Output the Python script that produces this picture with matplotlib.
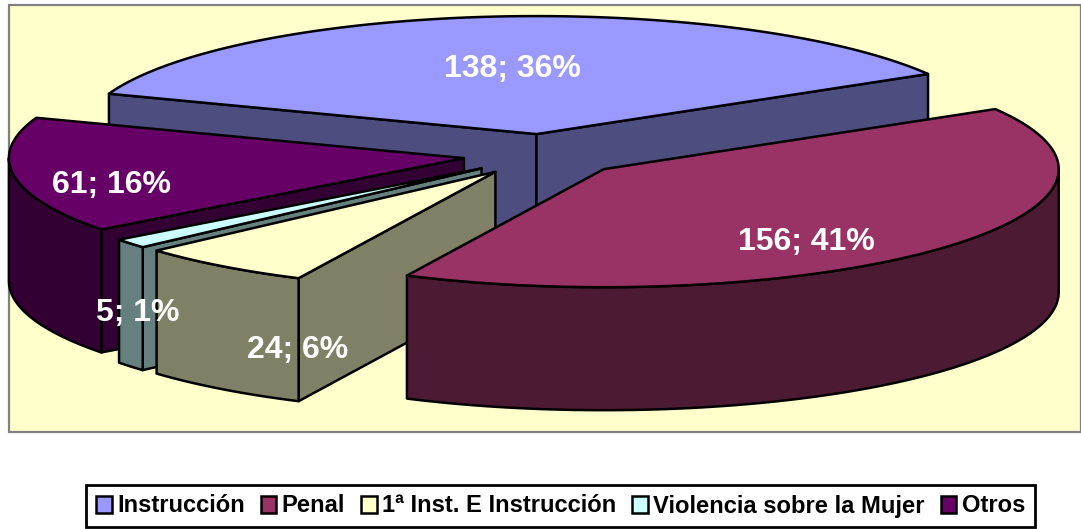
import numpy as np
import matplotlib
matplotlib.use("Agg")
import matplotlib.pyplot as plt
from matplotlib.patches import Polygon, Rectangle, Patch

plt.rcParams["font.family"] = ["Liberation Sans", "DejaVu Sans"]

# --- Data ---
categories = ["Instrucción", "Penal", "1ª Inst. E Instrucción", "Violencia sobre la Mujer", "Otros"]
values = [138, 156, 24, 5, 61]

# --- Style ---
top_colors = ["#9999ff", "#993366", "#ffffcc", "#ccffff", "#660066"]
wall_colors = ["#4d4d80", "#4d1a33", "#808066", "#668080", "#330033"]
label_pos = [(512, 69), (806, 242), (298, 350), (138, 313), (111, 185)]
draw_order = [0, 4, 3, 2, 1]

# --- Pie geometry (pixels) ---
CX, CY = 544.0, 155.0
RX, RY = 455.0, 118.0
EXPLODE = 81.0
DEPTH = 123.0
START = -70.0
EDGE = 1.8


def pie_xy(apex, ang):
    a = np.radians(ang)
    return apex[0] + RX * np.sin(a), apex[1] - RY * np.cos(a)


def extrude(ax, xs, ys, color):
    xs = np.asarray(xs)
    ys = np.asarray(ys)
    pts = np.column_stack([np.r_[xs, xs[::-1]], np.r_[ys, ys[::-1] + DEPTH]])
    ax.add_patch(Polygon(pts, closed=True, fc=color, ec="black", lw=EDGE, joinstyle="round"))


fig = plt.figure(figsize=(10.81, 5.29), dpi=100, facecolor="white")
ax = fig.add_axes([0, 0, 1, 1])
ax.set_xlim(0, 1081)
ax.set_ylim(529, 0)
ax.axis("off")

ax.add_patch(Rectangle((9, 5), 1071.5, 427, fc="#ffffcc", ec="#808080", lw=1.6))

total = sum(values)
spans = [v / total * 360 for v in values]
starts = START + np.r_[0, np.cumsum(spans)[:-1]]

for i in draw_order:
    a0 = starts[i]
    a1 = a0 + spans[i]
    mid = np.radians((a0 + a1) / 2)
    apex = (CX + EXPLODE * np.sin(mid), CY - EXPLODE * RY / RX * np.cos(mid))

    # side walls turned to the viewer
    if np.sin(np.radians(a0)) < 0:
        x, y = pie_xy(apex, a0)
        extrude(ax, [apex[0], x], [apex[1], y], wall_colors[i])
    if np.sin(np.radians(a1)) > 0:
        x, y = pie_xy(apex, a1)
        extrude(ax, [apex[0], x], [apex[1], y], wall_colors[i])

    # outer wall, front half only
    lo = max(a0, 90)
    hi = min(a1, 270)
    if hi > lo:
        x, y = pie_xy(apex, np.linspace(lo, hi, 80))
        extrude(ax, x, y, wall_colors[i])

    # top face
    x, y = pie_xy(apex, np.linspace(a0, a1, 160))
    pts = np.column_stack([np.r_[apex[0], x], np.r_[apex[1], y]])
    ax.add_patch(Polygon(pts, closed=True, fc=top_colors[i], ec="black", lw=EDGE, joinstyle="round"))

for v, pos in zip(values, label_pos):
    ax.text(pos[0], pos[1], f"{v}; {round(100 * v / total)}%", color="white", fontsize=23,
            fontweight="bold", ha="center", va="center")

handles = [Patch(fc=c, ec="black", lw=1.8) for c in top_colors]
ax.legend(handles, categories, loc="center", bbox_to_anchor=(560.5, 506), bbox_transform=ax.transData,
          ncol=5, prop={"weight": "bold", "size": 17.1}, fancybox=False, framealpha=1,
          edgecolor="black", handlelength=0.66, handleheight=0.72, handletextpad=0.22,
          columnspacing=0.675, borderpad=0.42, borderaxespad=0)
ax.get_legend().get_frame().set_linewidth(2.0)

fig.savefig("out.png", dpi=100)
